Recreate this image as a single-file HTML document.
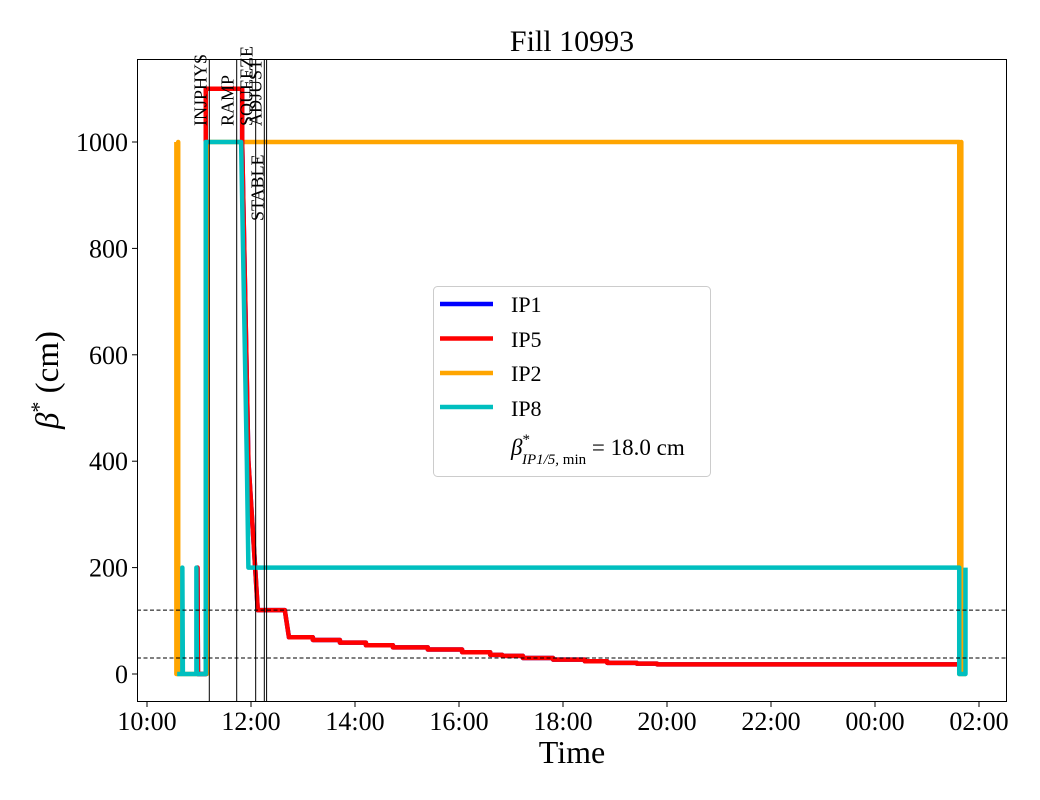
<!DOCTYPE html>
<html><head><meta charset="utf-8"><style>
body{margin:0;background:#fff}
svg{display:block;font-family:"Liberation Serif","DejaVu Serif",serif}
</style></head><body>
<svg id="chart" width="1040" height="800" viewBox="0 0 1040 800">
<rect x="0" y="0" width="1040" height="800" fill="#fff"/>
<text x="572" y="51" font-size="30" text-anchor="middle">Fill 10993</text>
<g id="plot"></g>
<g id="axes"></g>
<g id="legend">
<rect x="433.5" y="286.5" width="277" height="190" rx="4" fill="#fff" fill-opacity="0.8" stroke="#ccc"/>
<g><line x1="440" y1="304" x2="493" y2="304" stroke="#0000ff" stroke-width="4.5"/><text x="511" y="312" font-size="22">IP1</text></g>
<g><line x1="440" y1="338.5" x2="493" y2="338.5" stroke="#ff0000" stroke-width="4.5"/><text x="511" y="347" font-size="22">IP5</text></g>
<g><line x1="440" y1="373" x2="493" y2="373" stroke="#ffa500" stroke-width="4.5"/><text x="511" y="381" font-size="22">IP2</text></g>
<g><line x1="440" y1="407" x2="493" y2="407" stroke="#00bfbf" stroke-width="4.5"/><text x="511" y="416" font-size="22">IP8</text></g>
<g><text x="511" y="455" font-size="23"><tspan font-style="italic">β</tspan><tspan font-size="15" dy="-11">*</tspan><tspan font-size="15" dy="20" dx="-8" font-style="italic">IP1/5,</tspan><tspan font-size="15"> min</tspan><tspan dy="-9"> = 18.0 cm</tspan></text></g>
</g>
</svg>
<script>
const ipOrangeT=[10.565,10.565,10.60,10.60,10.60,11.15,11.15,25.62,25.62,25.66,25.66,25.66,25.75];
const ipOrangeV=[1000,0,0,1000,0,0,1000,1000,0,0,1000,0,0];
const ip8T=[10.58,10.68,10.68,10.69,10.95,10.95,10.96,11.13,11.13,11.81,11.92,11.95,25.62,25.62,25.74,25.74];
const ip8V=[0,0,200,0,0,200,0,0,1000,1000,400,200,200,0,0,200];
const ip5T=[10.96,10.97,10.98,11.13,11.13,11.83,11.83,11.95,12.08,12.13,12.65,12.73,13.19,13.19,13.71,13.71,14.21,14.21,14.73,14.73,15.40,15.40,16.06,16.06,16.60,16.60,16.83,16.83,17.23,17.23,17.81,17.81,18.42,18.42,18.85,18.85,19.42,19.42,19.81,19.81,25.58];
const ip5V=[0,200,0,0,1100,1100,1000,400,200,120,120,69,69,64,64,59,59,54,54,50,50,46,46,41,41,36,36,34,34,30,30,27,27,24,24,21,21,19.4,19.4,18,18];
const phaseNames=["INJPHYS","RAMP","SQUEEZE","ADJUST","STABLE"];
const phaseTimes=[11.198,11.725,12.09,12.256,12.30];
const refLines=[120,30];
const yTicks=[0,200,400,600,800,1000];
const xTickHours=[10,12,14,16,18,20,22,24,26];
const xTickLabels=["10:00","12:00","14:00","16:00","18:00","20:00","22:00","00:00","02:00"];
const NS="http://www.w3.org/2000/svg";
const L=137,R=1007,T=59,B=702;
function xs(h){return 147+(h-10)*52;}
function ys(v){return 674-v*0.532;}
function mk(tag,attrs,parent){const e=document.createElementNS(NS,tag);for(const k in attrs)e.setAttribute(k,attrs[k]);parent.appendChild(e);return e;}
const plot=document.getElementById('plot'),axes=document.getElementById('axes');
function series(T_,V_,color,w,name){
  const d=T_.map((t,i)=>(i?'L':'M')+xs(t).toFixed(2)+','+ys(V_[i]).toFixed(2)).join('');
  const p=mk('path',{d:d,fill:'none',stroke:color,'stroke-width':w,'stroke-linejoin':'round'},plot);
  
  
}
series(ipOrangeT,ipOrangeV,'#ffa500',4.5,'ip2-line');
series(ip5T,ip5V,'#0000ff',4.5,'ip1-line');
series(ip5T,ip5V,'#ff0000',4.5,'ip5-line');
series(ip8T,ip8V,'#00bfbf',4.5,'ip8-line');
refLines.forEach(v=>{
  const l=mk('line',{x1:L,x2:R,y1:ys(v),y2:ys(v),stroke:'#000','stroke-width':1,'stroke-dasharray':'4,2.5'},plot);
  
  
});
phaseTimes.forEach((t,i)=>{
  const x=xs(t);
  const l=mk('line',{x1:x,x2:x,y1:T,y2:B,stroke:'#000','stroke-width':1},plot);
  
  
  const yb=phaseNames[i]==='STABLE'?221:126;
  const tx=mk('text',{x:x-3,y:yb,'font-size':18,transform:'rotate(-90 '+(x-3)+' '+yb+')'},plot);
  tx.textContent=phaseNames[i];
  
  
});
const fr=mk('rect',{x:L+0.5,y:T+0.5,width:R-L-1,height:B-T-1,fill:'none',stroke:'#000','stroke-width':1},axes);


yTicks.forEach(v=>{
  const y=ys(v);
  mk('line',{x1:L-5,x2:L,y1:y,y2:y,stroke:'#000'},axes);
  const t=mk('text',{x:L-9,y:y+9,'font-size':26,'text-anchor':'end'},axes);
  t.textContent=v;
  
  
});
xTickHours.forEach((h,i)=>{
  const x=xs(h);
  mk('line',{x1:x,x2:x,y1:B,y2:B+5,stroke:'#000'},axes);
  const t=mk('text',{x:x,y:B+28,'font-size':26,'text-anchor':'middle'},axes);
  t.textContent=xTickLabels[i];
  
  
});
const xl=mk('text',{x:572,y:763,'font-size':32,'text-anchor':'middle'},axes);
xl.textContent='Time';


const yl=mk('text',{x:58,y:380,'font-size':33,'text-anchor':'middle',transform:'rotate(-90 58 380)'},axes);
yl.innerHTML='<tspan font-style="italic">β</tspan><tspan font-size="22" dy="-12">*</tspan><tspan dy="12">  (cm)</tspan>';


</script>
</body></html>
